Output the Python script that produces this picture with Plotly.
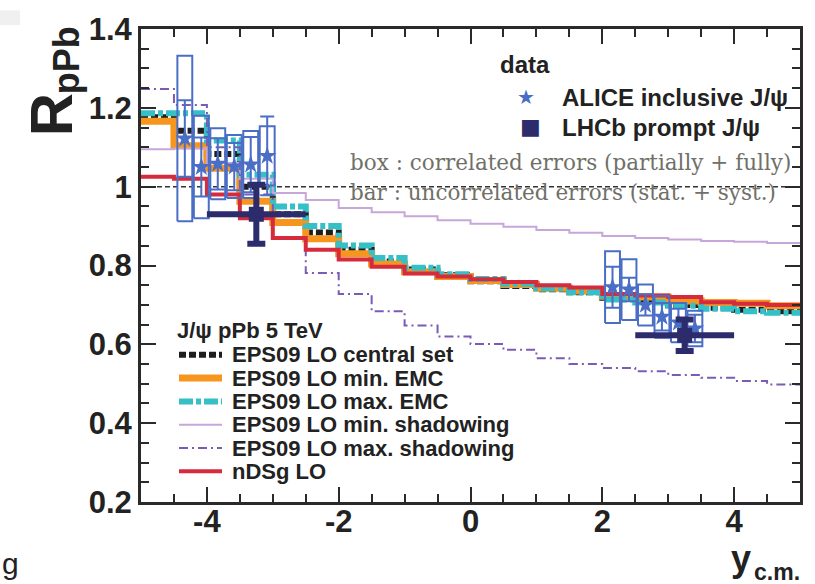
import plotly.graph_objects as go

# ---------------- data ----------------
edges = [-5.0, -4.5, -4.0, -3.5, -3.0, -2.5, -2.0, -1.5, -1.0, -0.5, 0.0,
         0.5, 1.0, 1.5, 2.0, 2.5, 3.0, 3.5, 4.0, 4.5, 5.0]

eps09_central = [1.176, 1.142, 1.083, 1.000, 0.930, 0.884, 0.840, 0.810, 0.790, 0.775,
                 0.760, 0.748, 0.740, 0.732, 0.718, 0.710, 0.700, 0.693, 0.688, 0.684]
eps09_min_emc = [1.166, 1.104, 1.047, 0.963, 0.909, 0.868, 0.830, 0.804, 0.784, 0.772,
                 0.762, 0.752, 0.742, 0.735, 0.722, 0.720, 0.710, 0.706, 0.704, 0.698]
eps09_max_emc = [1.186, 1.186, 1.117, 1.030, 0.950, 0.900, 0.851, 0.819, 0.794, 0.778,
                 0.766, 0.754, 0.742, 0.732, 0.714, 0.706, 0.698, 0.690, 0.684, 0.680]
eps09_min_shad = [1.095, 1.097, 1.060, 1.020, 0.984, 0.966, 0.946, 0.935, 0.925, 0.915,
                  0.906, 0.898, 0.890, 0.883, 0.875, 0.870, 0.866, 0.862, 0.860, 0.857]
eps09_max_shad = [1.248, 1.207, 1.100, 0.980, 0.870, 0.781, 0.728, 0.684, 0.648, 0.620,
                  0.601, 0.586, 0.565, 0.550, 0.540, 0.532, 0.522, 0.515, 0.507, 0.498]
ndsg_lo = [1.025, 1.020, 0.980, 0.920, 0.870, 0.840, 0.815, 0.797, 0.780, 0.772,
           0.765, 0.758, 0.750, 0.744, 0.728, 0.724, 0.720, 0.707, 0.703, 0.700]

alice_y = [-4.335, -4.085, -3.835, -3.585, -3.335, -3.085,
           2.155, 2.405, 2.655, 2.905, 3.155, 3.405]
alice_r = [1.122, 1.050, 1.058, 1.051, 1.056, 1.078,
           0.745, 0.739, 0.700, 0.670, 0.655, 0.640]
alice_unc = [0.097, 0.075, 0.065, 0.060, 0.070, 0.100,
             0.052, 0.030, 0.027, 0.035, 0.035, 0.035]
alice_cor = [0.210, 0.130, 0.090, 0.080, 0.085, 0.075,
             0.091, 0.077, 0.052, 0.053, 0.050, 0.045]

lhcb_y = [-3.25, 3.25]
lhcb_yerr = [0.75, 0.75]
lhcb_r = [0.930, 0.623]
lhcb_err = [0.075, 0.040]

y_tick_vals = [0.2, 0.4, 0.6, 0.8, 1.0, 1.2, 1.4]
y_tick_text = ["0.2", "0.4", "0.6", "0.8", "1", "1.2", "1.4"]
x_tick_vals = [-4, -2, 0, 2, 4]
x_tick_text = ["-4", "-2", "0", "2", "4"]

model_names = ["EPS09 LO central set", "EPS09 LO min. EMC", "EPS09 LO max. EMC",
               "EPS09 LO min. shadowing", "EPS09 LO max. shadowing", "nDSg LO"]

# ---------------- layout helpers ----------------
W, H = 815, 584
L, R, T, B = 141, 800, 19, 502


def px(x):
    return (x - L) / (R - L)


def py(y):
    return (B - y) / (B - T)


SANS = "Liberation Sans, Arial, sans-serif"
SERIF = "DejaVu Serif, serif"

styles = [
    dict(color="#1e1e1e", width=6, dash="7px,3px"),
    dict(color="#f7961f", width=7, dash="solid"),
    dict(color="#35bfc6", width=6, dash="14px,3px,5px,3px"),
    dict(color="#c7a6da", width=2, dash="solid"),
    dict(color="#7b5bb4", width=2, dash="9px,4px,2px,4px"),
    dict(color="#d52b3c", width=4, dash="solid"),
]
curves = [eps09_central, eps09_min_emc, eps09_max_emc, eps09_min_shad, eps09_max_shad, ndsg_lo]

fig = go.Figure()

# reference line at 1
fig.add_trace(go.Scatter(x=[edges[0], edges[-1]], y=[1.0, 1.0], mode="lines",
                         line=dict(color="#333333", width=1.5, dash="5px,3px"),
                         hoverinfo="skip", showlegend=False))

for name, vals, st in zip(model_names, curves, styles):
    fig.add_trace(go.Scatter(x=edges, y=vals + [vals[-1]], mode="lines",
                             line=dict(shape="hv", **st), name=name,
                             showlegend=False))

# ALICE correlated boxes
bw = 0.113
bx, byy = [], []
for xc, yc, c in zip(alice_y, alice_r, alice_cor):
    bx += [xc - bw, xc + bw, xc + bw, xc - bw, xc - bw, None]
    byy += [yc - c, yc - c, yc + c, yc + c, yc - c, None]
fig.add_trace(go.Scatter(x=bx, y=byy, mode="lines",
                         line=dict(color="#4a6ec6", width=2), showlegend=False,
                         hoverinfo="skip"))

# ALICE points with uncorrelated bars
fig.add_trace(go.Scatter(x=alice_y, y=alice_r, mode="markers",
                         marker=dict(symbol="star", size=14, color="#4a6ec6",
                                     line=dict(width=0)),
                         error_y=dict(type="data", array=alice_unc, visible=True,
                                      color="#4a6ec6", thickness=2, width=7),
                         name="ALICE inclusive J/ψ", showlegend=False))

# LHCb
fig.add_trace(go.Scatter(x=lhcb_y, y=lhcb_r, mode="markers",
                         marker=dict(symbol="square", size=15, color="#2c2c6c"),
                         error_y=dict(type="data", array=lhcb_err, visible=True,
                                      color="#2c2c6c", thickness=6, width=9),
                         error_x=dict(type="data", array=lhcb_yerr, visible=True,
                                      color="#2c2c6c", thickness=6, width=0),
                         name="LHCb prompt J/ψ", showlegend=False))

ann = []
shapes = []

# data legend
ann.append(dict(x=px(498), y=py(55), text="data", xanchor="left", yanchor="middle",
                font=dict(family=SANS, size=24, color="#222", weight="bold")))
ann.append(dict(x=px(526), y=py(88), text="★", xanchor="center", yanchor="middle",
                font=dict(family="DejaVu Sans", size=20, color="#4a6ec6")))
ann.append(dict(x=px(560), y=py(89), text="ALICE inclusive J/ψ", xanchor="left", yanchor="middle",
                font=dict(family=SANS, size=24, color="#222", weight="bold")))
ann.append(dict(x=px(530), y=py(119), text="■", xanchor="center", yanchor="middle",
                font=dict(family="DejaVu Sans", size=22, color="#2c2c6c")))
ann.append(dict(x=px(560), y=py(120), text="LHCb prompt J/ψ", xanchor="left", yanchor="middle",
                font=dict(family=SANS, size=24, color="#222", weight="bold")))

ann.append(dict(x=px(348), y=py(155), text="box : correlated errors (partially + fully)",
                xanchor="left", yanchor="middle",
                font=dict(family=SERIF, size=21.5, color="#707068")))
ann.append(dict(x=px(348), y=py(186), text="bar : uncorrelated errors (stat. + syst.)",
                xanchor="left", yanchor="middle",
                font=dict(family=SERIF, size=21.5, color="#707068")))

# model legend
ann.append(dict(x=px(175), y=py(327), text="J/ψ pPb 5 TeV", xanchor="left", yanchor="middle",
                font=dict(family=SANS, size=22, color="#222", weight="bold")))
leg_y = [351.7, 375.5, 399.3, 423.1, 446.9, 470.7]
for name, st, yy in zip(model_names, styles, leg_y):
    shapes.append(dict(type="line", xref="paper", yref="paper", x0=px(179), x1=px(222),
                       y0=py(yy), y1=py(yy),
                       line=dict(color=st["color"], width=st["width"], dash=st["dash"])))
    ann.append(dict(x=px(230), y=py(yy), text=name, xanchor="left", yanchor="middle",
                    font=dict(family=SANS, size=22, color="#222", weight="bold")))

# axis titles
ann.append(dict(x=px(51), y=py(107), text="R", textangle=-90, xanchor="center", yanchor="middle",
                font=dict(family=SANS, size=60, color="#222", weight="bold")))
ann.append(dict(x=px(66), y=py(51), text="pPb", textangle=-90, xanchor="center", yanchor="middle",
                font=dict(family=SANS, size=36, color="#222", weight="bold")))
ann.append(dict(x=px(741), y=py(560), text="y", xanchor="center", yanchor="middle",
                font=dict(family=SANS, size=36, color="#222", weight="bold")))
ann.append(dict(x=px(752), y=py(573), text="c.m.", xanchor="left", yanchor="middle",
                font=dict(family=SANS, size=23, color="#222", weight="bold")))

# page artefacts
ann.append(dict(x=px(0), y=py(565), text="g", xanchor="left", yanchor="middle",
                font=dict(family=SANS, size=30, color="#222")))
shapes.append(dict(type="rect", xref="paper", yref="paper", x0=px(0), x1=px(20),
                   y0=py(15), y1=py(0), fillcolor="#f0f0f0", line=dict(width=0), layer="below"))

for a in ann:
    a.update(xref="paper", yref="paper", showarrow=False)

axis_common = dict(showline=True, linewidth=3, linecolor="#2a2a2a", mirror="allticks",
                   ticks="inside", ticklen=15, tickwidth=2, tickcolor="#2a2a2a",
                   showgrid=False, zeroline=False,
                   tickfont=dict(family=SANS, size=31, color="#222", weight="bold"))

fig.update_layout(
    width=W, height=H, margin=dict(l=L, r=W - R, t=T, b=H - B),
    paper_bgcolor="white", plot_bgcolor="white",
    showlegend=False,
    xaxis=dict(range=[-5, 5], tickmode="array", tickvals=x_tick_vals, ticktext=x_tick_text,
               minor=dict(dtick=0.5, tick0=0, ticks="inside", ticklen=8, tickwidth=2,
                          tickcolor="#2a2a2a"),
               ticklabelstandoff=-10, **axis_common),
    yaxis=dict(range=[0.2, 1.4], tickmode="array", tickvals=y_tick_vals, ticktext=y_tick_text,
               minor=dict(dtick=0.05, tick0=0, ticks="inside", ticklen=8, tickwidth=2,
                          tickcolor="#2a2a2a"),
               ticklabelstandoff=0, **axis_common),
    annotations=ann, shapes=shapes,
)

fig.write_html("out.html")
